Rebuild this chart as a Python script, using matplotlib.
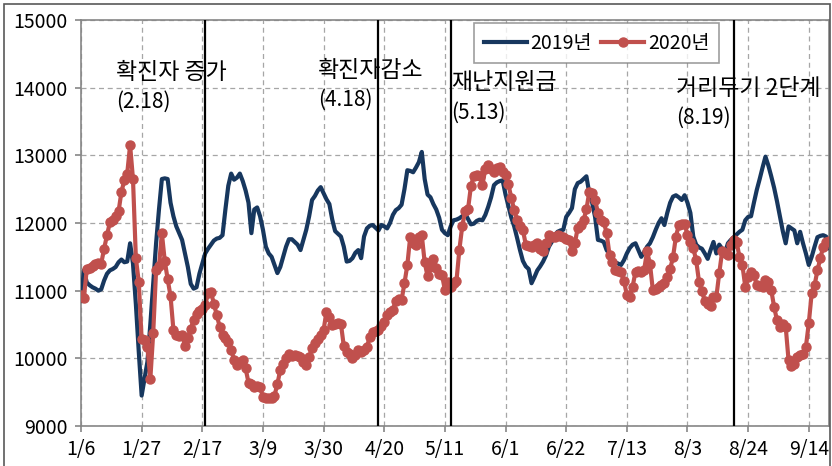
import numpy as np
import pandas as pd
import matplotlib
matplotlib.use("Agg")
import matplotlib.pyplot as plt
import matplotlib.ticker as ticker
from matplotlib.patches import Rectangle

plt.rcParams["font.family"] = ["Noto Sans CJK KR", "DejaVu Sans"]

# daily values, 2020-01-06 .. 2020-09-21
start_date = "2020-01-06"

y2019 = [
    10850, 11300, 11120, 11080, 11050, 11030, 11000, 11020, 11150, 11250,
    11300, 11320, 11350, 11420, 11460, 11420, 11430, 11700, 11400, 10800,
    10100, 9450, 9700, 9950, 10500, 11100, 11700, 12200, 12650, 12660,
    12650, 12300, 12100, 11950, 11850, 11750, 11550, 11350, 11100, 11030,
    11050, 11250, 11400, 11550, 11620, 11680, 11740, 11770, 11780, 11820,
    12200, 12550, 12730, 12640, 12670, 12730, 12620, 12480, 12300, 11850,
    12200, 12230, 12100, 11900, 11650, 11550, 11500, 11380, 11260, 11350,
    11500, 11650, 11760, 11760, 11720, 11680, 11600, 11750, 11900, 12100,
    12340, 12400, 12480, 12530, 12440, 12350, 12280, 12050, 11880, 11840,
    11800, 11650, 11430, 11440, 11480, 11560, 11600, 11480, 11800, 11920,
    11960, 11970, 11930, 11890, 11970, 11950, 11920, 12000, 12120, 12190,
    12220, 12270, 12500, 12780, 12770, 12750, 12820, 12900, 13050, 12650,
    12420, 12380, 12280, 12200, 12080, 11900, 11850, 11820, 11950, 12040,
    12050, 12070, 12100, 12140, 12060, 11980, 11990, 12030, 12050, 12040,
    12120, 12240, 12380, 12560, 12600, 12620, 12630, 12420, 12250, 12080,
    11950, 11780, 11600, 11440, 11360, 11320, 11110, 11200, 11300, 11360,
    11430, 11520, 11650, 11720, 11820, 11870, 11890, 11900, 12090, 12150,
    12220, 12500, 12590, 12610, 12650, 12690, 12440, 12300, 12090, 11750,
    11740, 11720, 11600, 11540, 11450, 11420, 11400, 11380, 11450, 11550,
    11630, 11680, 11700, 11600, 11500, 11570, 11650, 11700, 11790, 11900,
    12000, 12070, 11970, 12150, 12300, 12390, 12410, 12380, 12340, 12410,
    12300, 12150, 11800, 11680, 11640, 11620, 11550, 11470, 11600, 11720,
    11550, 11680, 11620, 11560, 11700, 11750, 11790, 11830, 11870, 11900,
    12040, 12090, 12100, 12300, 12490, 12650, 12820, 12980, 12850, 12690,
    12520, 12320, 12100, 11880, 11700, 11950, 11920, 11890, 11700, 11870,
    11700, 11550, 11380, 11500, 11650, 11790, 11810, 11820, 11800, 11630,
]

y2020 = [
    10930, 10890, 11320, 11340, 11360, 11400, 11410, 11400, 11620, 11820,
    12010, 12040, 12100, 12170, 12460, 12630, 12730, 13150, 12650, 11480,
    11130, 10280, 10270, 10170, 9690, 10370, 11300, 11360, 11850, 11440,
    11170, 10920, 10420, 10350, 10330, 10350, 10180, 10300, 10440, 10560,
    10650, 10700, 10730, 10790, 10960, 10980, 10810, 10640, 10470, 10350,
    10300, 10240, 10120, 9980, 9900, 9950, 9970, 9850, 9640, 9620,
    9580, 9590, 9570, 9430, 9420, 9410, 9420, 9450, 9620, 9830,
    9920, 10010, 10070, 10030, 10050, 10040, 10020, 9950, 9900, 10020,
    10150, 10220, 10280, 10350, 10420, 10690, 10610, 10490, 10510, 10520,
    10510, 10180, 10100, 10060, 10000, 10050, 10120, 10100, 10130, 10170,
    10320, 10390, 10400, 10420, 10480, 10540, 10640, 10680, 10720, 10850,
    10880, 10860, 11110, 11380, 11800, 11700, 11680, 11800, 11820, 11420,
    11210, 11350, 11470, 11340, 11240, 11230, 11010, 11130, 11060, 11120,
    11140, 11600, 11950, 12170, 12200, 12540, 12700, 12710, 12700, 12560,
    12800, 12850, 12800, 12760, 12820, 12830, 12760, 12710, 12570, 12370,
    12190, 12040, 11950, 11900, 11680, 11660, 11650, 11670, 11700, 11620,
    11580, 11700, 11820, 11800, 11790, 11820, 11810, 11800, 11770, 11750,
    11580, 11700, 11930, 11970, 12040, 12200, 12460, 12450, 12340, 12150,
    12040, 12020, 11850, 11530, 11430, 11310, 11290, 11280, 11140, 10940,
    10910, 11060, 11280, 11290, 11280, 11310, 11580, 11400, 11010, 11030,
    11060, 11090, 11110, 11200, 11320, 11500, 11800, 11970, 11990, 11990,
    11820, 11720, 11630, 11450, 11130, 10990, 10850, 10800, 10780, 10900,
    10910, 11260, 11580, 11550, 11530, 11680, 11750, 11720, 11500, 11380,
    11060, 11200, 11280, 11230, 11080, 11070, 11060, 11160, 11130, 11010,
    10760, 10560, 10470, 10510, 10470, 9970, 9880, 9920, 10020, 10050,
    10070, 10170, 10520, 10960, 11080, 11300, 11480, 11650, 11720, 11730,
]

event_dates = ["2020-02-18", "2020-04-18", "2020-05-13", "2020-08-19"]
event_labels = ["확진자 증가", "확진자감소", "재난지원금", "거리두기 2단계"]
event_dates_text = ["(2.18)", "(4.18)", "(5.13)", "(8.19)"]
label_anchor = ["2020-01-18", "2020-03-28", "2020-05-13", "2020-07-30"]
label_y = [14230, 14260, 14080, 13990]
date_y = [13790, 13820, 13625, 13550]

dates = pd.date_range(start_date, periods=len(y2019), freq="D")
tick_dates = dates[::21]
tick_labels = [f"{d.month}/{d.day}" for d in tick_dates]

fig = plt.figure(figsize=(8.32, 4.66), dpi=100)
ax = fig.add_axes([81 / 832, 40 / 466, 748 / 832, 406 / 466])

navy = "#17375E"
red = "#C0504D"
grey = "#868686"

ax.plot(dates, y2019, color=navy, lw=3, label="2019년", zorder=3)
ax.plot(dates, y2020, color=red, lw=3, marker="o", markersize=6.5,
        label="2020년", zorder=4)

for d in event_dates:
    ax.axvline(pd.Timestamp(d), color="black", lw=1.6, zorder=5)

for txt, dtxt, xa, ly, dy in zip(event_labels, event_dates_text, label_anchor, label_y, date_y):
    ax.text(pd.Timestamp(xa), ly, txt, fontsize=16.5, ha="left", va="center", zorder=6)
    ax.text(pd.Timestamp(xa), dy, dtxt, fontsize=15, ha="left", va="center", zorder=6)

ax.set_ylim(9000, 15000)
ax.set_yticks(np.arange(9000, 15001, 1000))
ax.set_xlim(dates[0], dates[-1])
ax.set_xticks(tick_dates)
ax.xaxis.set_major_formatter(ticker.FixedFormatter(tick_labels))

ax.grid(True, color="#A6A6A6", ls=(0, (4, 3)), lw=0.9, zorder=0)
ax.set_axisbelow(True)
for s in ax.spines.values():
    s.set_color(grey)
    s.set_linewidth(1.2)
ax.tick_params(axis="both", labelsize=14, color=grey, length=4.5, width=1.2,
               direction="out", pad=5)

leg = ax.legend(loc="upper left", bbox_to_anchor=(474 / 832, 1 - 23 / 466),
                bbox_transform=fig.transFigure, ncol=2, fontsize=14,
                frameon=True, fancybox=False, handlelength=2.2,
                columnspacing=0.5, handletextpad=0.2, borderpad=0.5,
                borderaxespad=0)
leg.get_frame().set_edgecolor(grey)
leg.get_frame().set_linewidth(1.2)

fig.patches.append(Rectangle((4 / 832, -0.02), 826 / 832, 1.02 - 4 / 466,
                             transform=fig.transFigure, fill=False,
                             edgecolor="#595959", lw=1.2))

fig.savefig("out.png", dpi=100)
